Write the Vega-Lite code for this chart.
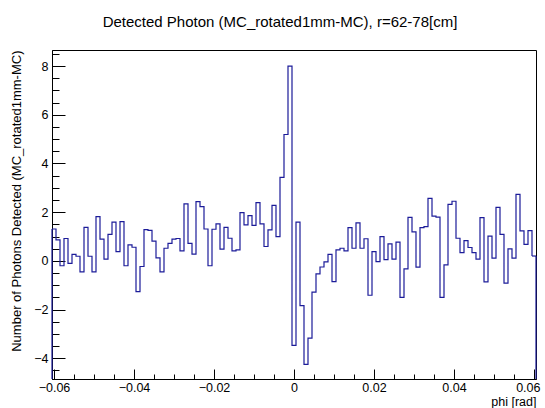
{
  "$schema": "https://vega.github.io/schema/vega-lite/v6.json",
  "width": 484,
  "height": 329,
  "autosize": {"type": "none"},
  "padding": {"left": 52, "top": 50, "right": 9, "bottom": 29},
  "background": "white",
  "config": {"view": {"stroke": "black", "strokeWidth": 1}, "font": "Liberation Sans"},
  "title": {"text": "Detected Photon (MC_rotated1mm-MC), r=62-78[cm]", "fontSize": 15, "font": "Liberation Sans", "fontWeight": "normal", "color": "black", "anchor": "middle", "frame": "group", "dx": -14, "baseline": "alphabetic", "offset": 8},
  "data": {"values": [
    {"lo": -0.0605, "hi": -0.0595, "n": 1.31},
    {"lo": -0.0595, "hi": -0.0585, "n": 0.86},
    {"lo": -0.0585, "hi": -0.0575, "n": -0.2},
    {"lo": -0.0575, "hi": -0.0565, "n": 0.92},
    {"lo": -0.0565, "hi": -0.0555, "n": -0.1},
    {"lo": -0.0555, "hi": -0.0545, "n": 0.27},
    {"lo": -0.0545, "hi": -0.0535, "n": 0.19},
    {"lo": -0.0535, "hi": -0.0525, "n": -0.45},
    {"lo": -0.0525, "hi": -0.0515, "n": 1.38},
    {"lo": -0.0515, "hi": -0.0505, "n": 0.19},
    {"lo": -0.0505, "hi": -0.0495, "n": -0.45},
    {"lo": -0.0495, "hi": -0.0485, "n": 1.82},
    {"lo": -0.0485, "hi": -0.0475, "n": 0.89},
    {"lo": -0.0475, "hi": -0.0465, "n": 0.07},
    {"lo": -0.0465, "hi": -0.0455, "n": 1.09},
    {"lo": -0.0455, "hi": -0.0445, "n": 1.59},
    {"lo": -0.0445, "hi": -0.0435, "n": 0.38},
    {"lo": -0.0435, "hi": -0.0425, "n": 1.61},
    {"lo": -0.0425, "hi": -0.0415, "n": -0.2},
    {"lo": -0.0415, "hi": -0.0405, "n": 0.66},
    {"lo": -0.0405, "hi": -0.0395, "n": 0.56},
    {"lo": -0.0395, "hi": -0.0385, "n": -1.26},
    {"lo": -0.0385, "hi": -0.0375, "n": -0.23},
    {"lo": -0.0375, "hi": -0.0365, "n": 1.28},
    {"lo": -0.0365, "hi": -0.0355, "n": 1.25},
    {"lo": -0.0355, "hi": -0.0345, "n": 0.81},
    {"lo": -0.0345, "hi": -0.0335, "n": 0.12},
    {"lo": -0.0335, "hi": -0.0325, "n": -0.45},
    {"lo": -0.0325, "hi": -0.0315, "n": 0.52},
    {"lo": -0.0315, "hi": -0.0305, "n": 0.72},
    {"lo": -0.0305, "hi": -0.0295, "n": 0.89},
    {"lo": -0.0295, "hi": -0.0285, "n": 0.92},
    {"lo": -0.0285, "hi": -0.0275, "n": 0.41},
    {"lo": -0.0275, "hi": -0.0265, "n": 2.34},
    {"lo": -0.0265, "hi": -0.0255, "n": 0.72},
    {"lo": -0.0255, "hi": -0.0245, "n": 0.28},
    {"lo": -0.0245, "hi": -0.0235, "n": 2.43},
    {"lo": -0.0235, "hi": -0.0225, "n": 2.23},
    {"lo": -0.0225, "hi": -0.0215, "n": 1.31},
    {"lo": -0.0215, "hi": -0.0205, "n": -0.2},
    {"lo": -0.0205, "hi": -0.0195, "n": 1.3},
    {"lo": -0.0195, "hi": -0.0185, "n": 1.52},
    {"lo": -0.0185, "hi": -0.0175, "n": 0.48},
    {"lo": -0.0175, "hi": -0.0165, "n": 1.38},
    {"lo": -0.0165, "hi": -0.0155, "n": 0.93},
    {"lo": -0.0155, "hi": -0.0145, "n": 0.41},
    {"lo": -0.0145, "hi": -0.0135, "n": 0.45},
    {"lo": -0.0135, "hi": -0.0125, "n": 1.98},
    {"lo": -0.0125, "hi": -0.0115, "n": 1.48},
    {"lo": -0.0115, "hi": -0.0105, "n": 1.86},
    {"lo": -0.0105, "hi": -0.0095, "n": 1.46},
    {"lo": -0.0095, "hi": -0.0085, "n": 2.39},
    {"lo": -0.0085, "hi": -0.0075, "n": 1.52},
    {"lo": -0.0075, "hi": -0.0065, "n": 0.59},
    {"lo": -0.0065, "hi": -0.0055, "n": 1.27},
    {"lo": -0.0055, "hi": -0.0045, "n": 2.28},
    {"lo": -0.0045, "hi": -0.0035, "n": 1.0},
    {"lo": -0.0035, "hi": -0.0025, "n": 3.43},
    {"lo": -0.0025, "hi": -0.0015, "n": 5.19},
    {"lo": -0.0015, "hi": -0.0005, "n": 8.0},
    {"lo": -0.0005, "hi": 0.0005, "n": -3.47},
    {"lo": 0.0005, "hi": 0.0015, "n": 1.59},
    {"lo": 0.0015, "hi": 0.0025, "n": -1.84},
    {"lo": 0.0025, "hi": 0.0035, "n": -4.25},
    {"lo": 0.0035, "hi": 0.0045, "n": -3.17},
    {"lo": 0.0045, "hi": 0.0055, "n": -1.28},
    {"lo": 0.0055, "hi": 0.0065, "n": -0.53},
    {"lo": 0.0065, "hi": 0.0075, "n": -0.25},
    {"lo": 0.0075, "hi": 0.0085, "n": -0.04},
    {"lo": 0.0085, "hi": 0.0095, "n": 0.27},
    {"lo": 0.0095, "hi": 0.0105, "n": -0.85},
    {"lo": 0.0105, "hi": 0.0115, "n": 0.45},
    {"lo": 0.0115, "hi": 0.0125, "n": 0.52},
    {"lo": 0.0125, "hi": 0.0135, "n": 0.41},
    {"lo": 0.0135, "hi": 0.0145, "n": 1.37},
    {"lo": 0.0145, "hi": 0.0155, "n": 0.52},
    {"lo": 0.0155, "hi": 0.0165, "n": 1.56},
    {"lo": 0.0165, "hi": 0.0175, "n": 0.52},
    {"lo": 0.0175, "hi": 0.0185, "n": 0.91},
    {"lo": 0.0185, "hi": 0.0195, "n": -1.41},
    {"lo": 0.0195, "hi": 0.0205, "n": 0.38},
    {"lo": 0.0205, "hi": 0.0215, "n": -0.03},
    {"lo": 0.0215, "hi": 0.0225, "n": 1.0},
    {"lo": 0.0225, "hi": 0.0235, "n": 0.05},
    {"lo": 0.0235, "hi": 0.0245, "n": 0.7},
    {"lo": 0.0245, "hi": 0.0255, "n": 0.07},
    {"lo": 0.0255, "hi": 0.0265, "n": 0.77},
    {"lo": 0.0265, "hi": 0.0275, "n": -1.5},
    {"lo": 0.0275, "hi": 0.0285, "n": -0.33},
    {"lo": 0.0285, "hi": 0.0295, "n": 1.79},
    {"lo": 0.0295, "hi": 0.0305, "n": 1.19},
    {"lo": 0.0305, "hi": 0.0315, "n": -0.26},
    {"lo": 0.0315, "hi": 0.0325, "n": 1.37},
    {"lo": 0.0325, "hi": 0.0335, "n": 1.41},
    {"lo": 0.0335, "hi": 0.0345, "n": 2.57},
    {"lo": 0.0345, "hi": 0.0355, "n": 1.84},
    {"lo": 0.0355, "hi": 0.0365, "n": 1.8},
    {"lo": 0.0365, "hi": 0.0375, "n": -1.5},
    {"lo": 0.0375, "hi": 0.0385, "n": -0.16},
    {"lo": 0.0385, "hi": 0.0395, "n": 2.32},
    {"lo": 0.0395, "hi": 0.0405, "n": 2.45},
    {"lo": 0.0405, "hi": 0.0415, "n": 0.93},
    {"lo": 0.0415, "hi": 0.0425, "n": 0.34},
    {"lo": 0.0425, "hi": 0.0435, "n": 0.83},
    {"lo": 0.0435, "hi": 0.0445, "n": 0.55},
    {"lo": 0.0445, "hi": 0.0455, "n": 0.34},
    {"lo": 0.0455, "hi": 0.0465, "n": 0.07},
    {"lo": 0.0465, "hi": 0.0475, "n": 1.78},
    {"lo": 0.0475, "hi": 0.0485, "n": -0.86},
    {"lo": 0.0485, "hi": 0.0495, "n": 1.02},
    {"lo": 0.0495, "hi": 0.0505, "n": 0.11},
    {"lo": 0.0505, "hi": 0.0515, "n": 2.2},
    {"lo": 0.0515, "hi": 0.0525, "n": 1.09},
    {"lo": 0.0525, "hi": 0.0535, "n": -0.91},
    {"lo": 0.0535, "hi": 0.0545, "n": 0.49},
    {"lo": 0.0545, "hi": 0.0555, "n": 0.11},
    {"lo": 0.0555, "hi": 0.0565, "n": 2.73},
    {"lo": 0.0565, "hi": 0.0575, "n": 1.23},
    {"lo": 0.0575, "hi": 0.0585, "n": 0.68},
    {"lo": 0.0585, "hi": 0.0595, "n": 1.24},
    {"lo": 0.0595, "hi": 0.0605, "n": 0.2}
  ]},
  "layer": [
    {
      "mark": {"type": "line", "interpolate": "step-after", "color": "#1c1c99", "strokeWidth": 1.2},
      "encoding": {
        "x": {"field": "lo", "type": "quantitative", "scale": {"domain": [-0.0605, 0.0605], "nice": false, "zero": false},
          "axis": {"orient": "bottom", "values": [-0.06, -0.04, -0.02, 0, 0.02, 0.04, 0.06], "format": ".2~f", "grid": false, "tickSize": -10, "tickColor": "black", "tickWidth": 1, "domainColor": "black", "labelPadding": 12, "labelFontSize": 12.5, "labelColor": "black", "labelFont": "Liberation Sans", "labelFlush": false, "labelOverlap": false,
            "labelAlign": {"condition": {"test": "datum.value > 0.05", "value": "right"}, "value": "center"},
            "labelOffset": {"condition": {"test": "datum.value > 0.05", "value": 6}, "value": 0},
            "title": "phi [rad]", "titleAnchor": "end", "titleFontSize": 12.5, "titleFont": "Liberation Sans", "titleFontWeight": "normal", "titleColor": "black", "titlePadding": 2}},
        "y": {"field": "n", "type": "quantitative", "scale": {"domain": [-4.85, 8.66], "nice": false, "zero": false},
          "axis": {"orient": "left", "values": [-4, -2, 0, 2, 4, 6, 8], "format": "d", "grid": false, "tickSize": -13, "tickColor": "black", "tickWidth": 1, "domainColor": "black", "labelPadding": 17, "labelFontSize": 12.5, "labelColor": "black", "labelFont": "Liberation Sans", "labelFlush": false, "labelOverlap": false, "title": "Number of Photons Detected (MC_rotated1mm-MC)", "titleAnchor": "end", "titleFontSize": 13, "titleFont": "Liberation Sans", "titleFontWeight": "normal", "titleColor": "black", "titlePadding": 10}}
      }
    },
    {
      "mark": {"type": "line", "strokeOpacity": 0},
      "encoding": {
        "x": {"field": "lo", "type": "quantitative",
          "axis": {"orient": "bottom", "values": [-0.06, -0.055, -0.05, -0.045, -0.04, -0.035, -0.03, -0.025, -0.02, -0.015, -0.01, -0.005, 0, 0.005, 0.01, 0.015, 0.02, 0.025, 0.03, 0.035, 0.04, 0.045, 0.05, 0.055, 0.06], "labels": false, "domain": false, "grid": false, "tickSize": -5, "tickColor": "black", "title": null}},
        "y": {"field": "n", "type": "quantitative",
          "axis": {"orient": "left", "values": [-4.5, -4, -3.5, -3, -2.5, -2, -1.5, -1, -0.5, 0, 0.5, 1, 1.5, 2, 2.5, 3, 3.5, 4, 4.5, 5, 5.5, 6, 6.5, 7, 7.5, 8, 8.5], "labels": false, "domain": false, "grid": false, "tickSize": -7, "tickColor": "black", "title": null}}
      }
    },
    {
      "transform": [{"filter": "datum.hi > 0.06"}],
      "mark": {"type": "rule", "color": "#1c1c99", "strokeWidth": 1.2},
      "encoding": {
        "x": {"field": "lo", "type": "quantitative", "axis": null},
        "x2": {"field": "hi"},
        "y": {"field": "n", "type": "quantitative", "axis": null}
      }
    },
    {
      "transform": [{"filter": "datum.lo < -0.06"}],
      "mark": {"type": "rule", "color": "#1c1c99", "strokeWidth": 1.2},
      "encoding": {
        "x": {"field": "lo", "type": "quantitative", "axis": null},
        "y": {"field": "n", "type": "quantitative", "axis": null},
        "y2": {"datum": -4.85}
      }
    },
    {
      "transform": [{"filter": "datum.hi > 0.06"}],
      "mark": {"type": "rule", "color": "#1c1c99", "strokeWidth": 1.2},
      "encoding": {
        "x": {"field": "hi", "type": "quantitative", "axis": null},
        "y": {"field": "n", "type": "quantitative", "axis": null},
        "y2": {"datum": -4.85}
      }
    }
  ],
  "resolve": {"axis": {"x": "independent", "y": "independent"}}
}
